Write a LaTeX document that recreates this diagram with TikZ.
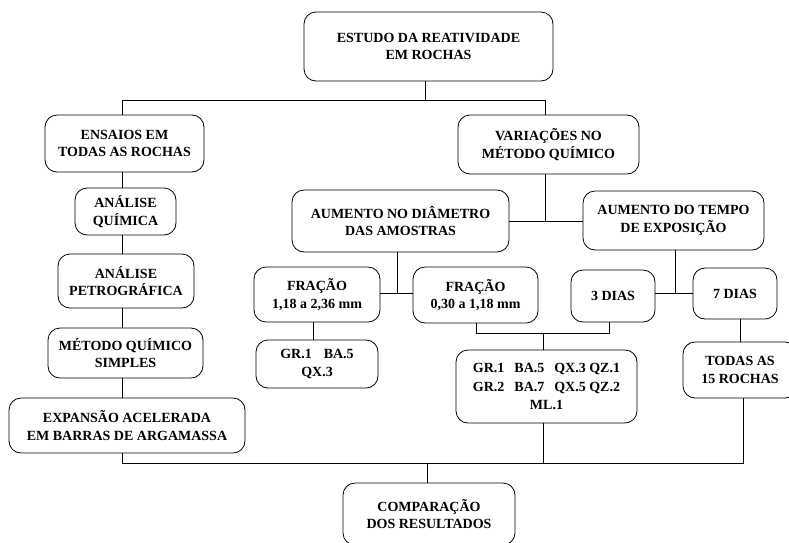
\documentclass[tikz,border=0pt]{standalone}
\usepackage{fontspec}
\setmainfont{Liberation Serif}
\begin{document}
\begin{tikzpicture}[x=1pt,y=-1pt,
  box/.style={draw, line width=0.8pt, rounded corners=12pt, align=center, inner sep=0pt,
    font=\fontsize{14}{17.5}\selectfont\bfseries},
  conn/.style={line width=0.8pt}]
\useasboundingbox (0,0) rectangle (789,542);
\clip (0,0) rectangle (789,542);
% nodes
\node[box, minimum width=249pt, minimum height=69pt] (est) at (428.5,46.5) {ESTUDO DA REATIVIDADE\\EM ROCHAS};
\node[box, minimum width=159pt, minimum height=57pt] (ens) at (124.5,143.5) {ENSAIOS EM\\TODAS AS ROCHAS};
\node[box, minimum width=101pt, minimum height=47pt] (aq) at (125.5,211.5) {ANÁLISE\\QUÍMICA};
\node[box, minimum width=136pt, minimum height=54pt] (ap) at (126,281) {ANÁLISE\\PETROGRÁFICA};
\node[box, minimum width=155pt, minimum height=50pt] (mqs) at (125.5,353) {MÉTODO QUÍMICO\\SIMPLES};
\node[box, minimum width=236pt, minimum height=55pt] (exp) at (127,425.5) {EXPANSÃO ACELERADA\\EM BARRAS DE ARGAMASSA};
\node[box, minimum width=181pt, minimum height=59pt] (var) at (548.5,144.5) {VARIAÇÕES NO\\MÉTODO QUÍMICO};
\node[box, minimum width=217pt, minimum height=62pt] (dia) at (400.5,221) {AUMENTO NO DIÂMETRO\\DAS AMOSTRAS};
\node[box, minimum width=181pt, minimum height=59pt] (tem) at (673.5,220.5) {AUMENTO DO TEMPO\\DE EXPOSIÇÃO};
\node[box, minimum width=126pt, minimum height=55pt] (f1) at (317,294.5) {FRAÇÃO\\1,18 a 2,36 mm};
\node[box, minimum width=125pt, minimum height=56pt] (f2) at (475.5,295) {FRAÇÃO\\0,30 a 1,18 mm};
\node[box, minimum width=84pt, minimum height=52pt] (d3) at (613,296) {3 DIAS};
\node[box, minimum width=84pt, minimum height=51pt] (d7) at (735,293.5) {7 DIAS};
\node[box, minimum width=122pt, minimum height=48pt] (g1) at (317,364) {GR.1\hspace{12pt}BA.5\\QX.3};
\node[box, minimum width=181pt, minimum height=73pt, font=\fontsize{14}{18.5}\selectfont\bfseries] (g2) at (546.5,386.5)
  {GR.1\hspace{10pt}BA.5\hspace{10pt}QX.3 QZ.1\\GR.2\hspace{10pt}BA.7\hspace{10pt}QX.5 QZ.2\\ML.1};
\node[box, minimum width=114pt, minimum height=56pt] (tod) at (740,370) {TODAS AS\\15 ROCHAS};
\node[box, minimum width=172pt, minimum height=62pt] (cmp) at (429,514) {COMPARAÇÃO\\DOS RESULTADOS};
% junction coordinates
\coordinate (j0) at (425,100);
\coordinate (jl) at (122,100);
\coordinate (jr) at (545,100);
\coordinate (jv) at (545,221);
\coordinate (jd) at (397,293);
\coordinate (jt) at (675,293);
\coordinate (ja) at (476,333);
\coordinate (jb) at (609,333);
\coordinate (jc) at (543,333);
\coordinate (b1) at (122,463);
\coordinate (b2) at (743,463);
\coordinate (bg) at (543,463);
\coordinate (bc) at (427,463);
% connectors
\draw[conn] (est.south -| j0) -- (j0);
\draw[conn] (ens.north -| jl) -- (jl) -- (jr) -- (var.north -| jr);
\draw[conn] (ens.south -| jl) -- (aq.north -| jl);
\draw[conn] (aq.south -| jl) -- (ap.north -| jl);
\draw[conn] (ap.south -| jl) -- (mqs.north -| jl);
\draw[conn] (mqs.south -| jl) -- (exp.north -| jl);
\draw[conn] (var.south -| jv) -- (jv);
\draw[conn] (dia.east |- jv) -- (tem.west |- jv);
\draw[conn] (dia.south -| jd) -- (jd);
\draw[conn] (f1.east |- jd) -- (f2.west |- jd);
\draw[conn] (tem.south -| jt) -- (jt);
\draw[conn] (d3.east |- jt) -- (d7.west |- jt);
\draw[conn] (f1.south -| 313,0) -- (g1.north -| 313,0);
\draw[conn] (f2.south -| ja) -- (ja) -- (jb) -- (d3.south -| jb);
\draw[conn] (jc) -- (g2.north -| jc);
\draw[conn] (d7.south -| 740,0) -- (tod.north -| 740,0);
\draw[conn] (exp.south -| b1) -- (b1) -- (b2) -- (tod.south -| b2);
\draw[conn] (g2.south -| bg) -- (bg);
\draw[conn] (bc) -- (cmp.north -| bc);
\end{tikzpicture}
\end{document}
